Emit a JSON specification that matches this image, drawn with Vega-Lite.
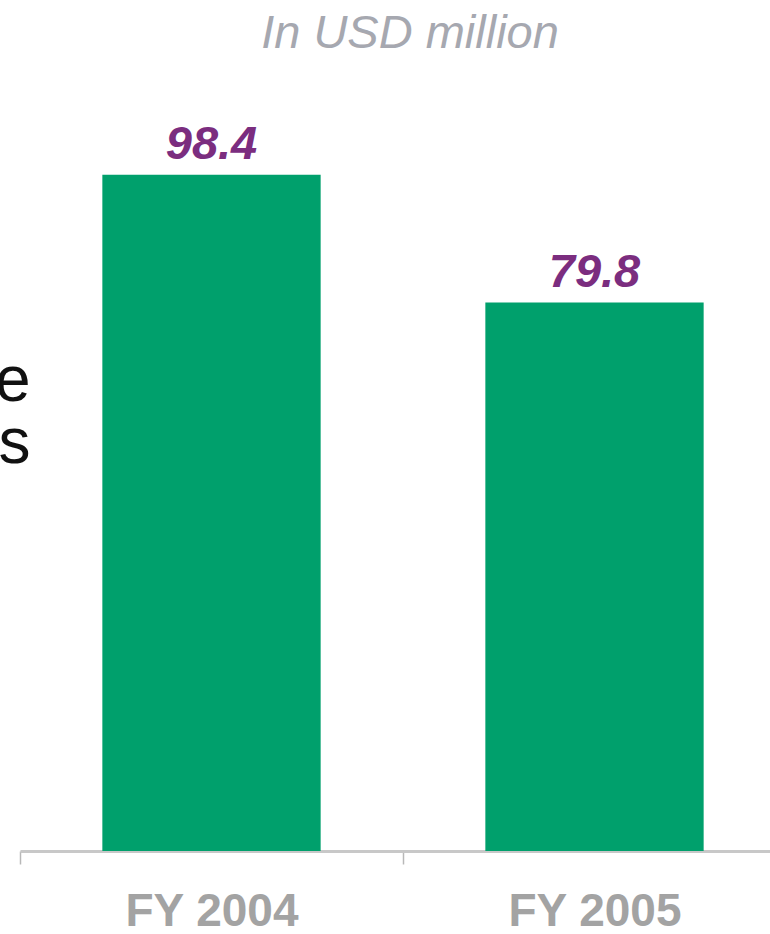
{
  "$schema": "https://vega.github.io/schema/vega-lite/v6.json",
  "width": 766,
  "height": 756,
  "autosize": {"type": "none"},
  "padding": {"left": 20, "top": 95, "right": 0, "bottom": 83},
  "background": "white",
  "config": {"view": {"stroke": null}, "font": "Liberation Sans"},
  "title": {
    "text": "In USD million",
    "font": "Liberation Sans",
    "fontSize": 47,
    "fontStyle": "italic",
    "fontWeight": "normal",
    "color": "#a6a8b0",
    "anchor": "middle",
    "baseline": "alphabetic",
    "offset": 0,
    "dx": 7
  },
  "data": {
    "values": [
      {"year": "FY 2004", "value": 98.4, "label": "98.4"},
      {"year": "FY 2005", "value": 79.8, "label": "79.8"}
    ]
  },
  "encoding": {
    "x": {
      "field": "year",
      "type": "nominal",
      "sort": null,
      "scale": {"paddingInner": 0, "paddingOuter": 0},
      "axis": {
        "title": null,
        "labelAngle": 0,
        "labelFont": "Liberation Sans",
        "labelFontSize": 46,
        "labelFontWeight": "bold",
        "labelColor": "#a3a3a3",
        "labelPadding": 25,
        "domainColor": "#c8c8c8",
        "domainWidth": 3,
        "tickColor": "#b8b8b8",
        "tickWidth": 1.5,
        "tickSize": 13,
        "tickBand": "extent"
      }
    },
    "y": {
      "field": "value",
      "type": "quantitative",
      "scale": {"domain": [0, 110], "nice": false},
      "axis": {
        "domain": false,
        "ticks": false,
        "labels": false,
        "grid": false,
        "title": ["e", "s"],
        "titleAngle": 0,
        "titleAlign": "right",
        "titleBaseline": "alphabetic",
        "titleFont": "Liberation Sans",
        "titleFontSize": 64,
        "titleFontWeight": "normal",
        "titleColor": "#111111",
        "titleLineHeight": 62,
        "titleX": 10,
        "titleY": 305
      }
    }
  },
  "layer": [
    {
      "mark": {"type": "bar", "width": {"band": 0.57}, "color": "#00a06c"}
    },
    {
      "mark": {
        "type": "text",
        "dy": -16,
        "baseline": "alphabetic",
        "font": "Liberation Sans",
        "fontSize": 47,
        "fontWeight": "bold",
        "fontStyle": "italic",
        "color": "#7b2d7f"
      },
      "encoding": {"text": {"field": "label"}}
    }
  ]
}
